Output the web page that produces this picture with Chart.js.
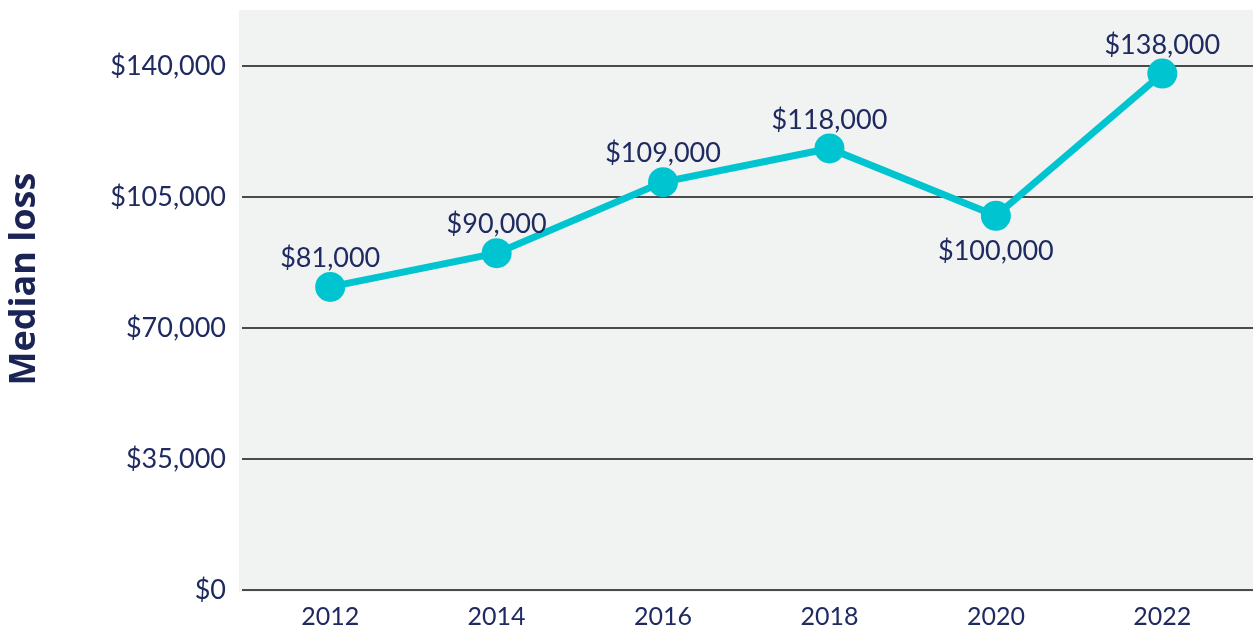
<!DOCTYPE html>
<html>
<head>
<meta charset="utf-8">
<script src="https://cdn.jsdelivr.net/npm/chart.js@4.4.1/dist/chart.umd.min.js"></script>
<style>
html,body{margin:0;padding:0;background:#ffffff;}
#wrap{width:1253px;height:634px;position:relative;}
</style>
</head>
<body>
<div id="wrap"><canvas id="c" width="1253" height="634"></canvas></div>
<script>
const years = [2012, 2014, 2016, 2018, 2020, 2022];
const medianLoss = [81000, 90000, 109000, 118000, 100000, 138000];
const valueLabels = ["$81,000","$90,000","$109,000","$118,000","$100,000","$138,000"];
const labelBelow = [false,false,false,false,true,false];
const yTickValues = [0, 35000, 70000, 105000, 140000];
const yTickLabels = ["$0","$35,000","$70,000","$105,000","$140,000"];
const yTitle = "Median loss";

const navy = '#1f2a60';
const fontFam = 'Lato, "Open Sans", sans-serif';

const bgPlugin = {
  id:'bgPlugin',
  beforeDraw(chart){
    const {ctx, chartArea:a} = chart;
    ctx.save();
    ctx.fillStyle = '#f1f2f2';
    ctx.fillRect(239, a.top, chart.width-239, a.bottom-a.top+2);
    ctx.restore();
  }
};
const labelPlugin = {
  id:'labelPlugin',
  afterDatasetsDraw(chart){
    const {ctx} = chart;
    const meta = chart.getDatasetMeta(0);
    ctx.save();
    ctx.font = '27px ' + fontFam;
    ctx.fillStyle = navy;
    ctx.textAlign = 'center';
    meta.data.forEach((pt,i)=>{
      if(labelBelow[i]){
        ctx.textBaseline = 'top';
        ctx.fillText(valueLabels[i], pt.x, pt.y + 22);
      } else {
        ctx.textBaseline = 'bottom';
        ctx.fillText(valueLabels[i], pt.x, pt.y - 15);
      }
    });
    // y axis title
    ctx.translate(25, 279);
    ctx.rotate(-Math.PI/2);
    ctx.font = 'bold 36px "Open Sans", Lato, sans-serif';
    ctx.fillStyle = '#1c2456';
    ctx.textBaseline = 'middle';
    ctx.fillText(yTitle, 0, 0);
    ctx.restore();
  }
};

new Chart(document.getElementById('c'), {
  type:'line',
  data:{
    datasets:[{
      data: years.map((y,i)=>({x:y, y:medianLoss[i]})),
      borderColor:'#00c4cf',
      backgroundColor:'#00c4cf',
      borderWidth:7,
      pointRadius:15,
      pointHoverRadius:15,
      pointBackgroundColor:'#00c4cf',
      pointBorderWidth:0,
      tension:0,
      clip:false
    }]
  },
  options:{
    responsive:false,
    animation:false,
    layout:{autoPadding:false, padding:{top:10,right:0,left:0,bottom:0}},
    plugins:{legend:{display:false},tooltip:{enabled:false}},
    scales:{
      x:{
        type:'linear',
        min:2010.94, max:2023.09,
        afterBuildTicks(s){ s.ticks = years.map(v=>({value:v})); },
        grid:{display:false, drawTicks:false},
        border:{display:false},
        ticks:{color:navy, font:{family:fontFam,size:25}, padding:12, callback:(v)=>String(v)},
        afterFit(s){ s.height = 44; s.paddingLeft = 0; s.paddingRight = 0; }
      },
      y:{
        min:0, max:155000,
        afterBuildTicks(s){ s.ticks = yTickValues.map(v=>({value:v})); },
        grid:{color:'#4a4a4a', lineWidth:2, drawTicks:false},
        border:{display:false},
        ticks:{color:navy, font:{family:fontFam,size:27}, padding:16,
          callback:(v)=>{ const i = yTickValues.indexOf(v); return i>=0 ? yTickLabels[i] : ''; }},
        afterFit(s){ s.width = 242; s.paddingTop = 0; s.paddingBottom = 0; }
      }
    }
  },
  plugins:[bgPlugin,labelPlugin]
});
</script>
</body>
</html>
